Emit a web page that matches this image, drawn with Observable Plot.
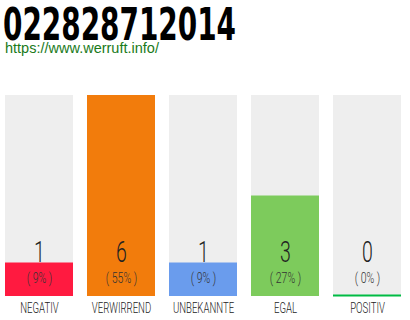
<!DOCTYPE html>
<html>
<head>
<meta charset="utf-8">
<script src="https://cdn.jsdelivr.net/npm/d3@7"></script>
<script src="https://cdn.jsdelivr.net/npm/@observablehq/plot@0.6"></script>
<style>
  html, body { margin: 0; padding: 0; background: #fff; }
  #wrap { position: relative; width: 410px; height: 320px; overflow: hidden; }
  #head { position: absolute; left: 0; top: 0; }
  #chart { position: absolute; left: 0; top: 0; }
</style>
</head>
<body>
<div id="wrap">
  <div id="chart"></div>
  <svg id="head" width="410" height="60">
    <text x="3" y="40" textLength="233" lengthAdjust="spacingAndGlyphs"
      font-family="'DejaVu Sans Condensed', 'DejaVu Sans', sans-serif" font-weight="bold"
      font-size="45" fill="#000">022828712014</text>
    <text x="5" y="53" font-family="'Liberation Sans', Arial, sans-serif" font-size="14.5"
      fill="#1a7a1a">https://www.werruft.info/</text>
  </svg>
</div>
<script>
// Ratings for this phone number
const categories = ["NEGATIV", "VERWIRREND", "UNBEKANNTE", "EGAL", "POSITIV"];
const counts = [1, 6, 1, 3, 0];
const percents = ["( 9% )", "( 55% )", "( 9% )", "( 27% )", "( 0% )"];
const colors = ["#ff1a40", "#f27c0c", "#6a9ced", "#7dcb5c", "#00bb44"];
const maxCount = 6;

const rows = categories.map((c, i) => ({cat: c, n: counts[i], pct: percents[i], color: colors[i]}));
const face = "Roboto, 'DejaVu Sans', sans-serif";

const chart = Plot.plot({
  width: 410,
  height: 320,
  marginTop: 95,
  marginBottom: 24,
  marginLeft: 5,
  marginRight: 9,
  style: {background: "transparent"},
  x: {domain: categories, paddingInner: 14 / 82, paddingOuter: 0, axis: null},
  y: {domain: [0, maxCount], axis: null},
  marks: [
    Plot.barY(rows, {x: "cat", y: () => maxCount, fill: "#eeeeee"}),
    Plot.barY(rows, {x: "cat", y: "n", fill: "color"}),
    Plot.tickY(rows.filter(d => d.n === 0), {x: "cat", y: 0, stroke: "color", strokeWidth: 2, dy: -1}),
    Plot.text(rows, {x: "cat", text: d => String(d.n), frameAnchor: "bottom", lineAnchor: "middle",
      dy: -44, fontSize: 30, fontWeight: 300, fontFamily: face, fill: "#222"}),
    Plot.text(rows, {x: "cat", text: "pct", frameAnchor: "bottom", lineAnchor: "middle",
      dy: -18, fontSize: 15, fontWeight: 300, fontFamily: face, fill: "#333"}),
    Plot.text(rows, {x: "cat", text: "cat", frameAnchor: "bottom", lineAnchor: "middle",
      dy: 12, fontSize: 15.5, fontWeight: 300, fontFamily: face, fill: "#222"})
  ]
});
document.getElementById("chart").appendChild(chart);

// Condense the text marks horizontally (numbers, percentages, labels)
const squeeze = [0.65, 0.7, 0.62];
d3.select(chart).selectAll("g[aria-label='text']").each(function(_, i) {
  const s = squeeze[i];
  d3.select(this).selectAll("text").each(function() {
    const xa = this.getAttribute("x");
    let pre = "";
    if (xa !== null && !isNaN(+xa)) {
      pre = ` translate(${+xa},0)`;
      this.removeAttribute("x");
    }
    const t = this.getAttribute("transform") || "";
    this.setAttribute("transform", `${t}${pre} scale(${s},1)`);
  });
});
</script>
</body>
</html>
